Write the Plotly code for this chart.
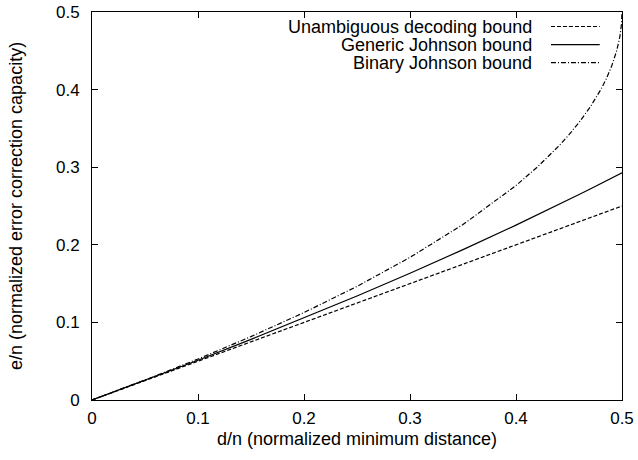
import plotly.graph_objects as go

# d/n sample positions
d_over_n = [0.0, 0.05, 0.1, 0.15, 0.2, 0.25, 0.3, 0.35, 0.4, 0.42, 0.44, 0.45,
            0.46, 0.47, 0.48, 0.485, 0.49, 0.495, 0.498, 0.4995, 0.5]

unambiguous = [0.0, 0.025, 0.05, 0.075, 0.1, 0.125, 0.15, 0.175, 0.2, 0.21, 0.22, 0.225,
               0.23, 0.235, 0.24, 0.2425, 0.245, 0.2475, 0.249, 0.24975, 0.25]

generic_johnson = [0.0, 0.0253, 0.0513, 0.0781, 0.1056, 0.1340, 0.1633, 0.1938, 0.2254, 0.2384, 0.2517, 0.2584,
                   0.2651, 0.2720, 0.2789, 0.2824, 0.2859, 0.2894, 0.2915, 0.2926, 0.2929]

binary_johnson = [0.0, 0.0257, 0.0528, 0.0817, 0.1127, 0.1464, 0.1838, 0.2261, 0.2764, 0.3000, 0.3268, 0.3419,
                  0.3586, 0.3775, 0.4000, 0.4134, 0.4293, 0.4500, 0.4684, 0.4842, 0.5000]

series_names = ["Unambiguous decoding bound", "Generic Johnson bound", "Binary Johnson bound"]
series_values = [unambiguous, generic_johnson, binary_johnson]
series_dash = ["4px,2px", "solid", "5px,2px,1px,2px"]

x_ticks = [0, 0.1, 0.2, 0.3, 0.4, 0.5]
x_tick_text = ["0", "0.1", "0.2", "0.3", "0.4", "0.5"]
y_ticks = [0, 0.1, 0.2, 0.3, 0.4, 0.5]
y_tick_text = ["0", "0.1", "0.2", "0.3", "0.4", "0.5"]

FONT = "Liberation Sans, Arial, Helvetica, sans-serif"
FS = 18
TICK_FS = 17

fig = go.Figure()
for name, vals, dash in zip(series_names, series_values, series_dash):
    fig.add_trace(go.Scatter(x=d_over_n, y=vals, mode="lines", name=name,
                             line=dict(color="black", width=1.2, dash=dash),
                             showlegend=False))

# manual legend (text right-aligned, sample line to the right)
legend_y = [0.9626, 0.916, 0.8697]
for name, dash, ly in zip(series_names, series_dash, legend_y):
    fig.add_annotation(x=0.834, y=ly, xref="paper", yref="paper", text=name,
                       showarrow=False, xanchor="right", yanchor="middle",
                       font=dict(family=FONT, size=FS, color="black"))
    fig.add_shape(type="line", xref="paper", yref="paper", x0=0.866, x1=0.958, y0=ly, y1=ly,
                  line=dict(color="black", width=1.2, dash=dash))

fig.add_annotation(x=0, y=0.5, xref="paper", yref="paper", text="e/n (normalized error correction capacity)",
                   textangle=-90, showarrow=False, xanchor="center", yanchor="middle", xshift=-76,
                   font=dict(family=FONT, size=FS, color="black"))
fig.add_annotation(x=0.5, y=0, xref="paper", yref="paper", text="d/n (normalized minimum distance)",
                   showarrow=False, xanchor="center", yanchor="middle", yshift=-39,
                   font=dict(family=FONT, size=FS, color="black"))

axis_common = dict(showgrid=False, zeroline=False, showline=True, linecolor="black", linewidth=1,
                   mirror="ticks", ticks="inside", ticklen=6, tickcolor="black", tickwidth=1,
                   automargin=False,
                   tickfont=dict(family=FONT, size=TICK_FS, color="black"))
fig.update_xaxes(range=[0, 0.5], tickvals=x_ticks, ticktext=x_tick_text, ticklabelstandoff=3, **axis_common)
fig.update_yaxes(range=[0, 0.5], tickvals=y_ticks, ticktext=y_tick_text, ticklabelstandoff=8, **axis_common)

fig.update_layout(width=638, height=460, margin=dict(l=92, r=16, t=12, b=60, pad=0, autoexpand=False),
                  plot_bgcolor="white", paper_bgcolor="white",
                  font=dict(family=FONT, size=FS, color="black"))

fig.write_html("out.html", config={"displayModeBar": False},
               post_script="document.body.style.margin='0';document.body.style.padding='0';")
